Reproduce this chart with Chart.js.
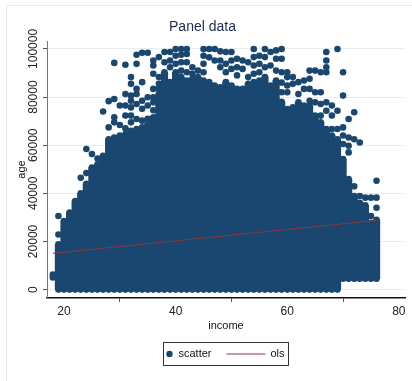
<!DOCTYPE html>
<html><head><meta charset="utf-8">
<script src="https://cdn.jsdelivr.net/npm/chart.js@4.4.1/dist/chart.umd.min.js"></script>
<style>html,body{margin:0;padding:0;background:#fff;}</style>
</head><body>
<canvas id="c" width="412" height="381"></canvas>
<script>
// ---- data ----
const chartTitle = 'Panel data';
const xTitle = 'income';
const yTitle = 'age';
const xTickValues = [20, 40, 60, 80];
const yTickValues = [0, 20000, 40000, 60000, 80000, 100000];

// dense columns of observations: income value, lowest and highest age in the solid band
const columnIncome = [19,20,21,22,23,24,25,26,27,28,29,30,31,32,33,34,35,36,37,38,39,40,41,42,43,44,45,46,47,48,49,50,51,52,53,54,55,56,57,58,59,60,61,62,63,64,65,66,67,68,69,70,71,72,73,74,75,76];
const columnTop = [18800,28500,32000,36800,40000,44000,50700,52100,55600,62500,
                   63200,64000,64600,66000,66700,67400,68800,71600,81300,90300,
                   86200,90300,88300,86900,87600,88300,86900,86200,84800,84100,
                   86200,84800,83400,83400,85500,86200,86900,88300,84800,86900,
                   78000,75000,75700,77800,76500,76500,72300,69500,66700,64000,
                   62500,54200,45900,38900,36100,35000,27800,29000];
const columnBottom = [0,0,0,0,0,0,0,0,0,0, 0,0,0,0,0,0,0,0,0,0, 0,0,0,0,0,0,0,0,0,0,
                      0,0,0,0,0,0,0,0,0,0, 0,0,0,0,0,0,0,0,0,0, 0,4500,4500,4500,4500,4500,4500,4500];

// scattered observations outside the solid band
const pointIncome = [18,18, 19,19, 23, 24,24, 25, 26, 27, 28,28, 29,29,29,29, 30,30,
  31,31,31,31,31, 32,32,32,32,32,32,32, 33,33,33,33,33,33, 34,34,34,34,34, 35,35,35,35,
  36,36,36,36,36,36,36, 37,37,37,37, 38,38, 39,39,39, 40,40,40, 41,41,41,41, 42,42,42,42,
  43,43, 44, 45,45,45,45, 46,46, 47,47, 48,48,48, 49,49,49, 50,50,50, 51,51,51, 52,52,
  53,53, 54,54,54,54, 55,55,55, 56,56,56, 57,57, 58,58,58, 59,59,59,59,59, 60,60,60,60,
  61,61, 62,62, 63,63, 64,64,64,64, 65,65,65, 66,66,66,66, 67,67,67,67,67,67, 68,68,68,
  69,69,69, 70,70,70,70,70, 71,71,71,71, 72,72,72, 73,73, 74, 75,75, 76,76,76];
const pointAge = [5000,6200, 30600,22900, 46500, 58400,48400, 56300, 54500, 74000, 78300,67400,
  94200,79200,71600,69500, 76500,68400,
  93400,81300,76500,72300,67000, 88300,85500,80600,78500,75700,72300,69500,
  97600,93800,83400,81300,77100,70900, 98400,86200,78500,75100,70200, 98400,79900,76500,71000,
  95200,93100,89700,83400,79900,77800,74500, 96600,88300,85500,83400, 98700,94500,
  98700,95200,92400, 100000,97200,93800, 100000,97600,94500,91000, 100000,97900,94500,90300,
  92400,89700, 91000, 100000,97200,93800,90300, 100000,96500, 100000,95200, 99000,95200,92400,
  98700,93800,90300, 98700,95200,91700, 95900,92400,89000, 95200,91700,
  94500,88300, 100000,96600,93100,89700, 97200,93800,90300, 100000,96600,92400, 98700,93100,
  99400,95900,91000, 100000,95900,90300,86000,82000, 90300,88300,84800,82000,
  88300,85500, 86200,81300, 86900,83400, 91000,87600,83400,78500, 91000,82000,77800,
  90300,82000,77100,72300, 98700,95200,92400,90300,77800,74300, 76500,72300,66700,
  100000,74300,66700, 90300,80600,67400,64000,60500, 70900,63200,59800,57000,
  73700,62500,42900, 61100,38900, 38200, 38200,30600, 45200,38200,34000];

// fitted OLS line end points
const olsIncome = [18, 76];
const olsAge = [15060, 28750];

// ---- styling ----
const FONT = '"Liberation Sans", Arial, sans-serif';
const NAVY = '#1a476f';
const MAROON = '#90353b';

const columnData = columnIncome.map((x, i) => ({x: x, y: [columnBottom[i], columnTop[i]]}));
const capData = [];
columnIncome.forEach((x, i) => { capData.push({x: x, y: columnTop[i]}); capData.push({x: x, y: columnBottom[i]}); });
const pointData = pointIncome.map((x, i) => ({x: x, y: pointAge[i]}));
const olsData = olsIncome.map((x, i) => ({x: x, y: olsAge[i]}));

const framePlugin = {
  id: 'frame',
  beforeDraw(chart) {
    const ctx = chart.ctx;
    ctx.save();
    ctx.fillStyle = '#ffffff';
    ctx.fillRect(0, 0, chart.width, chart.height);
    ctx.strokeStyle = '#e2eaed';
    ctx.lineWidth = 1;
    ctx.strokeRect(6.5, 5.5, chart.width + 20, chart.height + 20);
    ctx.restore();
  }
};

const yLabelPlugin = {
  id: 'ylabels',
  afterDraw(chart) {
    const ctx = chart.ctx, ys = chart.scales.y;
    ctx.save();
    ctx.fillStyle = '#222';
    ctx.font = '12px ' + FONT;
    ctx.textAlign = 'center';
    ctx.textBaseline = 'middle';
    yTickValues.forEach(v => {
      const py = ys.getPixelForValue(v);
      ctx.save();
      ctx.translate(ys.right - 13.5, py);
      ctx.rotate(-Math.PI / 2);
      ctx.fillText(String(v), 0, 0);
      ctx.restore();
    });
    ctx.restore();
  }
};

const legendPlugin = {
  id: 'stataLegend',
  afterDraw(chart) {
    const ctx = chart.ctx, ca = chart.chartArea;
    const cx = (ca.left + ca.right) / 2;
    const bx = Math.round(cx - 63) + 0.5, by = 342.5, bw = 125, bh = 23;
    const cy = by + bh / 2;
    const ds = chart.data.datasets;
    const sc = ds.find(d => d.label === 'scatter');
    const ol = ds.find(d => d.label === 'ols');
    ctx.save();
    ctx.strokeStyle = '#333';
    ctx.lineWidth = 1;
    ctx.strokeRect(bx, by, bw, bh);
    ctx.fillStyle = sc.backgroundColor;
    ctx.beginPath();
    ctx.arc(bx + 6, cy, 3.2, 0, Math.PI * 2);
    ctx.fill();
    ctx.fillStyle = '#111';
    ctx.font = '11px ' + FONT;
    ctx.textBaseline = 'middle';
    ctx.textAlign = 'left';
    ctx.fillText(sc.label, bx + 15, cy);
    ctx.strokeStyle = ol.borderColor;
    ctx.lineWidth = 1;
    ctx.beginPath();
    ctx.moveTo(bx + 63, cy);
    ctx.lineTo(bx + 102, cy);
    ctx.stroke();
    ctx.fillText(ol.label, bx + 107, cy);
    ctx.restore();
  }
};

new Chart(document.getElementById('c'), {
  type: 'scatter',
  data: {
    datasets: [
      {type: 'line', label: 'ols', data: olsData, borderColor: MAROON, borderWidth: 1,
       pointRadius: 0, fill: false, order: 0},
      {type: 'scatter', label: 'scatter', data: pointData, backgroundColor: NAVY,
       pointBackgroundColor: NAVY, pointBorderWidth: 0, pointRadius: 3.3, order: 1},
      {type: 'scatter', label: 'caps', data: capData, backgroundColor: NAVY,
       pointBackgroundColor: NAVY, pointBorderWidth: 0, pointRadius: 3.3, order: 2},
      {type: 'bar', label: 'columns', data: columnData, backgroundColor: NAVY,
       borderWidth: 0, barThickness: 6.6, grouped: false, order: 3}
    ]
  },
  options: {
    responsive: false,
    animation: false,
    layout: {padding: {left: 0, right: 7, top: 0, bottom: 45}},
    plugins: {
      legend: {display: false},
      tooltip: {enabled: false},
      title: {display: true, text: chartTitle, color: '#1e2a52',
              font: {family: FONT, size: 14, weight: 'normal'}, padding: {top: 18.6, bottom: 5.6}}
    },
    scales: {
      x: {
        type: 'linear', min: 16.95, max: 81.1, offset: false,
        afterBuildTicks: s => { s.ticks = xTickValues.map(v => ({value: v})); },
        afterFit: s => { s.height = 38; },
        grid: {display: true, drawOnChartArea: false, drawTicks: true, tickLength: 4, tickColor: '#555'},
        border: {display: true, color: '#111', width: 1.5},
        ticks: {color: '#222', font: {family: FONT, size: 12}, padding: 2, maxRotation: 0,
                callback: v => String(v)},
        title: {display: true, text: xTitle, color: '#111', font: {family: FONT, size: 11},
                padding: {top: 0, bottom: 3}}
      },
      y: {
        type: 'linear', min: -3500, max: 103300,
        afterBuildTicks: s => { s.ticks = yTickValues.map(v => ({value: v})); },
        afterFit: s => { s.width = 47; },
        grid: {color: '#e6eef0', lineWidth: 1, drawTicks: true, tickLength: 4, tickColor: '#555'},
        border: {display: true, color: '#777', width: 1},
        ticks: {display: false},
        title: {display: true, text: yTitle, color: '#111', font: {family: FONT, size: 11},
                padding: {top: 15.4, bottom: 0}}
      }
    }
  },
  plugins: [framePlugin, yLabelPlugin, legendPlugin]
});
</script>
</body></html>
